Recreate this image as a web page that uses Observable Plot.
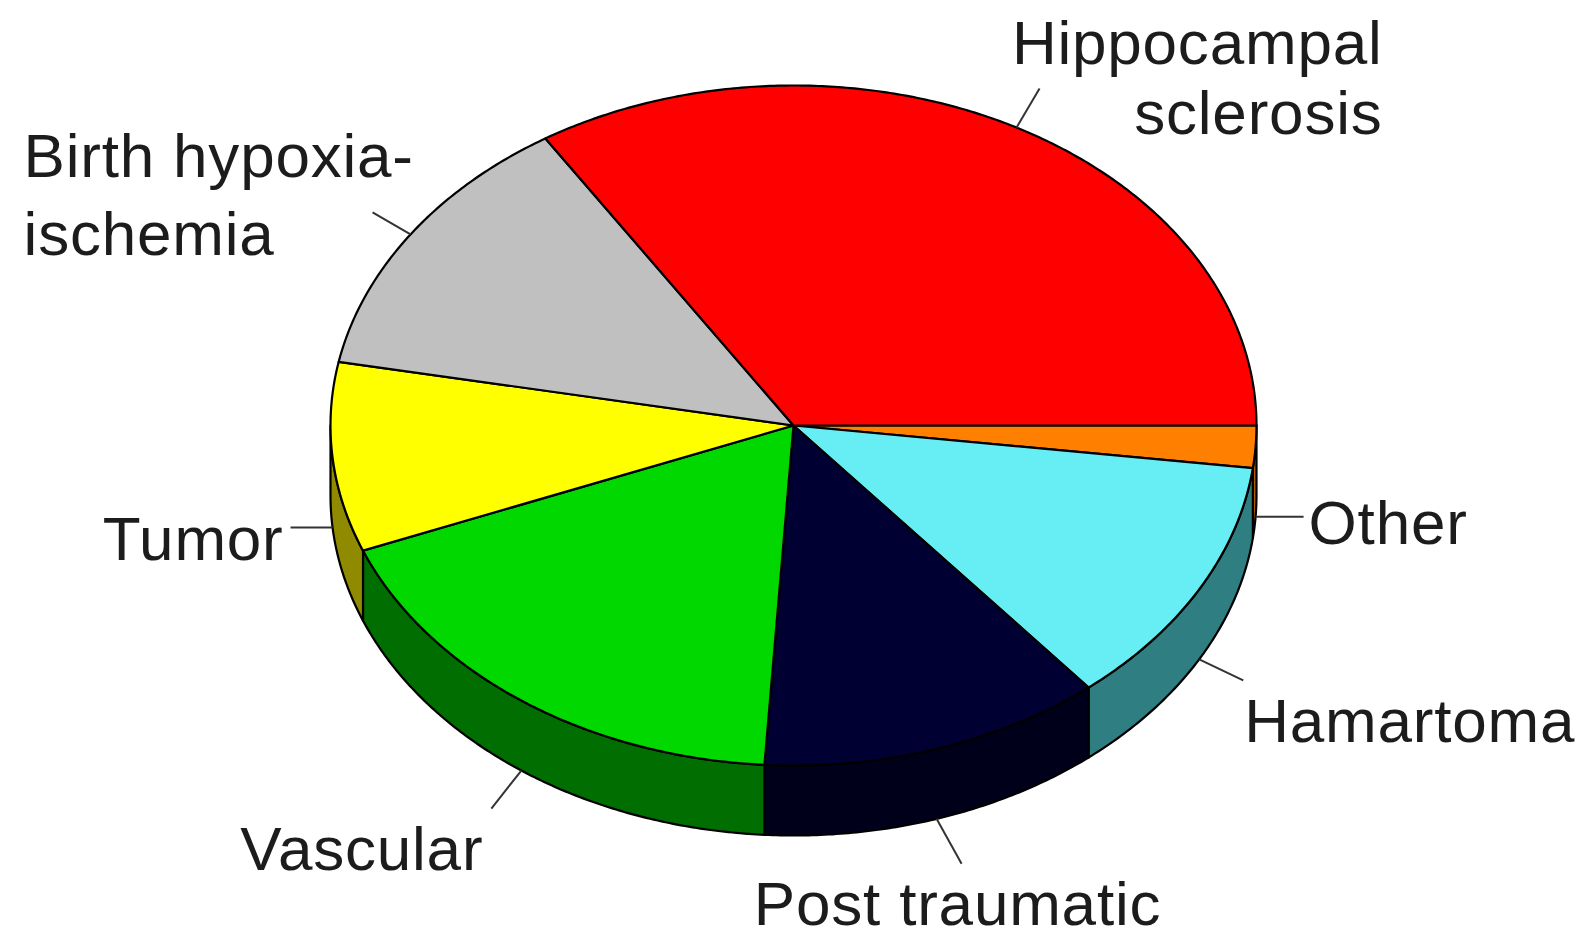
<!DOCTYPE html>
<html>
<head>
<meta charset="utf-8">
<script src="https://cdn.jsdelivr.net/npm/d3@7"></script>
<script src="https://cdn.jsdelivr.net/npm/@observablehq/plot@0.6"></script>
<style>
html,body{margin:0;padding:0;background:#fff;overflow:hidden}
</style>
</head>
<body>
<div id="chart"></div>
<script>
// ---- data (clockwise from 3 o'clock) ----
const categories = ["Other", "Hamartoma", "Post traumatic", "Vascular", "Tumor", "Birth hypoxia-ischemia", "Hippocampal sclerosis"];
const values = [2, 12, 12, 18, 9, 13, 34];
const labelLines = [["Other"], ["Hamartoma"], ["Post traumatic"], ["Vascular"], ["Tumor"], ["Birth hypoxia-", "ischemia"], ["Hippocampal", "sclerosis"]];

// ---- styles ----
const topColors  = ["#ff8000", "#66eef4", "#000033", "#00d800", "#ffff00", "#c0c0c0", "#ff0000"];
const sideColors = ["#b35a00", "#2f7e82", "#00001a", "#006e00", "#8f8a00", "#868686", "#b30000"];

// ---- layout ----
const W = 1583, H = 939;
const geom = {cx: 793, cy: 425, rx: 463, ry: 340, depth: 70};
// leader end offset (from leader start on pie edge), text offset (from leader start), anchor, line spacing
const labelLayout = {
  "Other":                  {lead: [48, 0],   text: [53, 27],    anchor: "start",  lh: 70},
  "Hamartoma":              {lead: [44, 21],  text: [45, 83],    anchor: "start",  lh: 70},
  "Post traumatic":         {lead: [25, 45],  text: [21, 106],   anchor: "middle", lh: 70},
  "Vascular":               {lead: [-30, 38], text: [-38, 99],   anchor: "end",    lh: 70},
  "Tumor":                  {lead: [-42, 0],  text: [-49, 33],   anchor: "end",    lh: 70},
  "Birth hypoxia-ischemia": {lead: [-38, -22],text: [-387, 21],  anchor: "start",  lh: 78},
  "Hippocampal sclerosis":  {lead: [23, -39], text: [366, 6],    anchor: "end",    lh: 70}
};

const total = d3.sum(values);
const rad = d => d * Math.PI / 180;
const px = t => geom.cx + geom.rx * Math.cos(rad(t));
const py = t => geom.cy - geom.ry * Math.sin(rad(t));

// slice angular ranges, going clockwise (decreasing angle) from 0
let acc = 0;
const slices = categories.map((c, i) => {
  const a = -acc;
  acc += values[i] / total * 360;
  const b = -acc;
  return {i, c, a, b, mid: (a + b) / 2};
});

function arc(a, b) {
  const n = Math.max(2, Math.ceil(Math.abs(a - b) / 0.5));
  return d3.range(n + 1).map(k => a + (b - a) * k / n);
}

const topPts = [];
const sidePts = [];
for (const s of slices) {
  topPts.push({id: s.c, x: geom.cx, y: geom.cy, fill: topColors[s.i]});
  for (const t of arc(s.a, s.b)) topPts.push({id: s.c, x: px(t), y: py(t), fill: topColors[s.i]});
  // front half: angles between -180 and 0
  const lo = Math.max(s.b, -180), hi = Math.min(s.a, 0);
  if (hi > lo) {
    const ts = arc(hi, lo);
    for (const t of ts) sidePts.push({id: s.c, x: px(t), y: py(t), fill: sideColors[s.i]});
    for (const t of ts.slice().reverse()) sidePts.push({id: s.c, x: px(t), y: py(t) + geom.depth, fill: sideColors[s.i]});
  }
}

const leaders = [];
const textRows = [];
for (const s of slices) {
  const L = labelLayout[s.c];
  const front = Math.sin(rad(s.mid)) < 0;
  const x1 = px(s.mid), y1 = py(s.mid) + (front ? geom.depth : 0);
  leaders.push({x1, y1, x2: x1 + L.lead[0], y2: y1 + L.lead[1]});
  const lines = labelLines[s.i];
  const n = lines.length;
  lines.forEach((line, k) => {
    textRows.push({text: line, x: x1 + L.text[0], y: y1 + L.text[1] - (n - 1 - k) * L.lh, anchor: L.anchor});
  });
}

const textOpts = anchor => ({
  x: "x", y: "y", text: "text", textAnchor: anchor, lineAnchor: "bottom",
  fontSize: 62, fontFamily: "Liberation Sans, Arial, sans-serif", fill: "#1c1c1c"
});

const chart = Plot.plot({
  width: W, height: H,
  margin: 0,
  x: {domain: [0, W], range: [0, W], axis: null},
  y: {domain: [0, H], range: [0, H], axis: null},
  color: {type: "identity"},
  style: {background: "#ffffff"},
  marks: [
    Plot.line(sidePts, {x: "x", y: "y", z: "id", fill: "fill", stroke: "#000", strokeWidth: 2.2, strokeLinejoin: "round", curve: "linear-closed"}),
    Plot.line(topPts, {x: "x", y: "y", z: "id", fill: "fill", stroke: "#000", strokeWidth: 2.2, strokeLinejoin: "round", curve: "linear-closed"}),
    Plot.link(leaders, {x1: "x1", y1: "y1", x2: "x2", y2: "y2", stroke: "#333", strokeWidth: 2}),
    Plot.text(textRows.filter(d => d.anchor === "start"), textOpts("start")),
    Plot.text(textRows.filter(d => d.anchor === "middle"), textOpts("middle")),
    Plot.text(textRows.filter(d => d.anchor === "end"), textOpts("end"))
  ]
});
chart.querySelectorAll("text").forEach(t => t.style.letterSpacing = "0.8px");
document.getElementById("chart").appendChild(chart);
</script>
</body>
</html>
